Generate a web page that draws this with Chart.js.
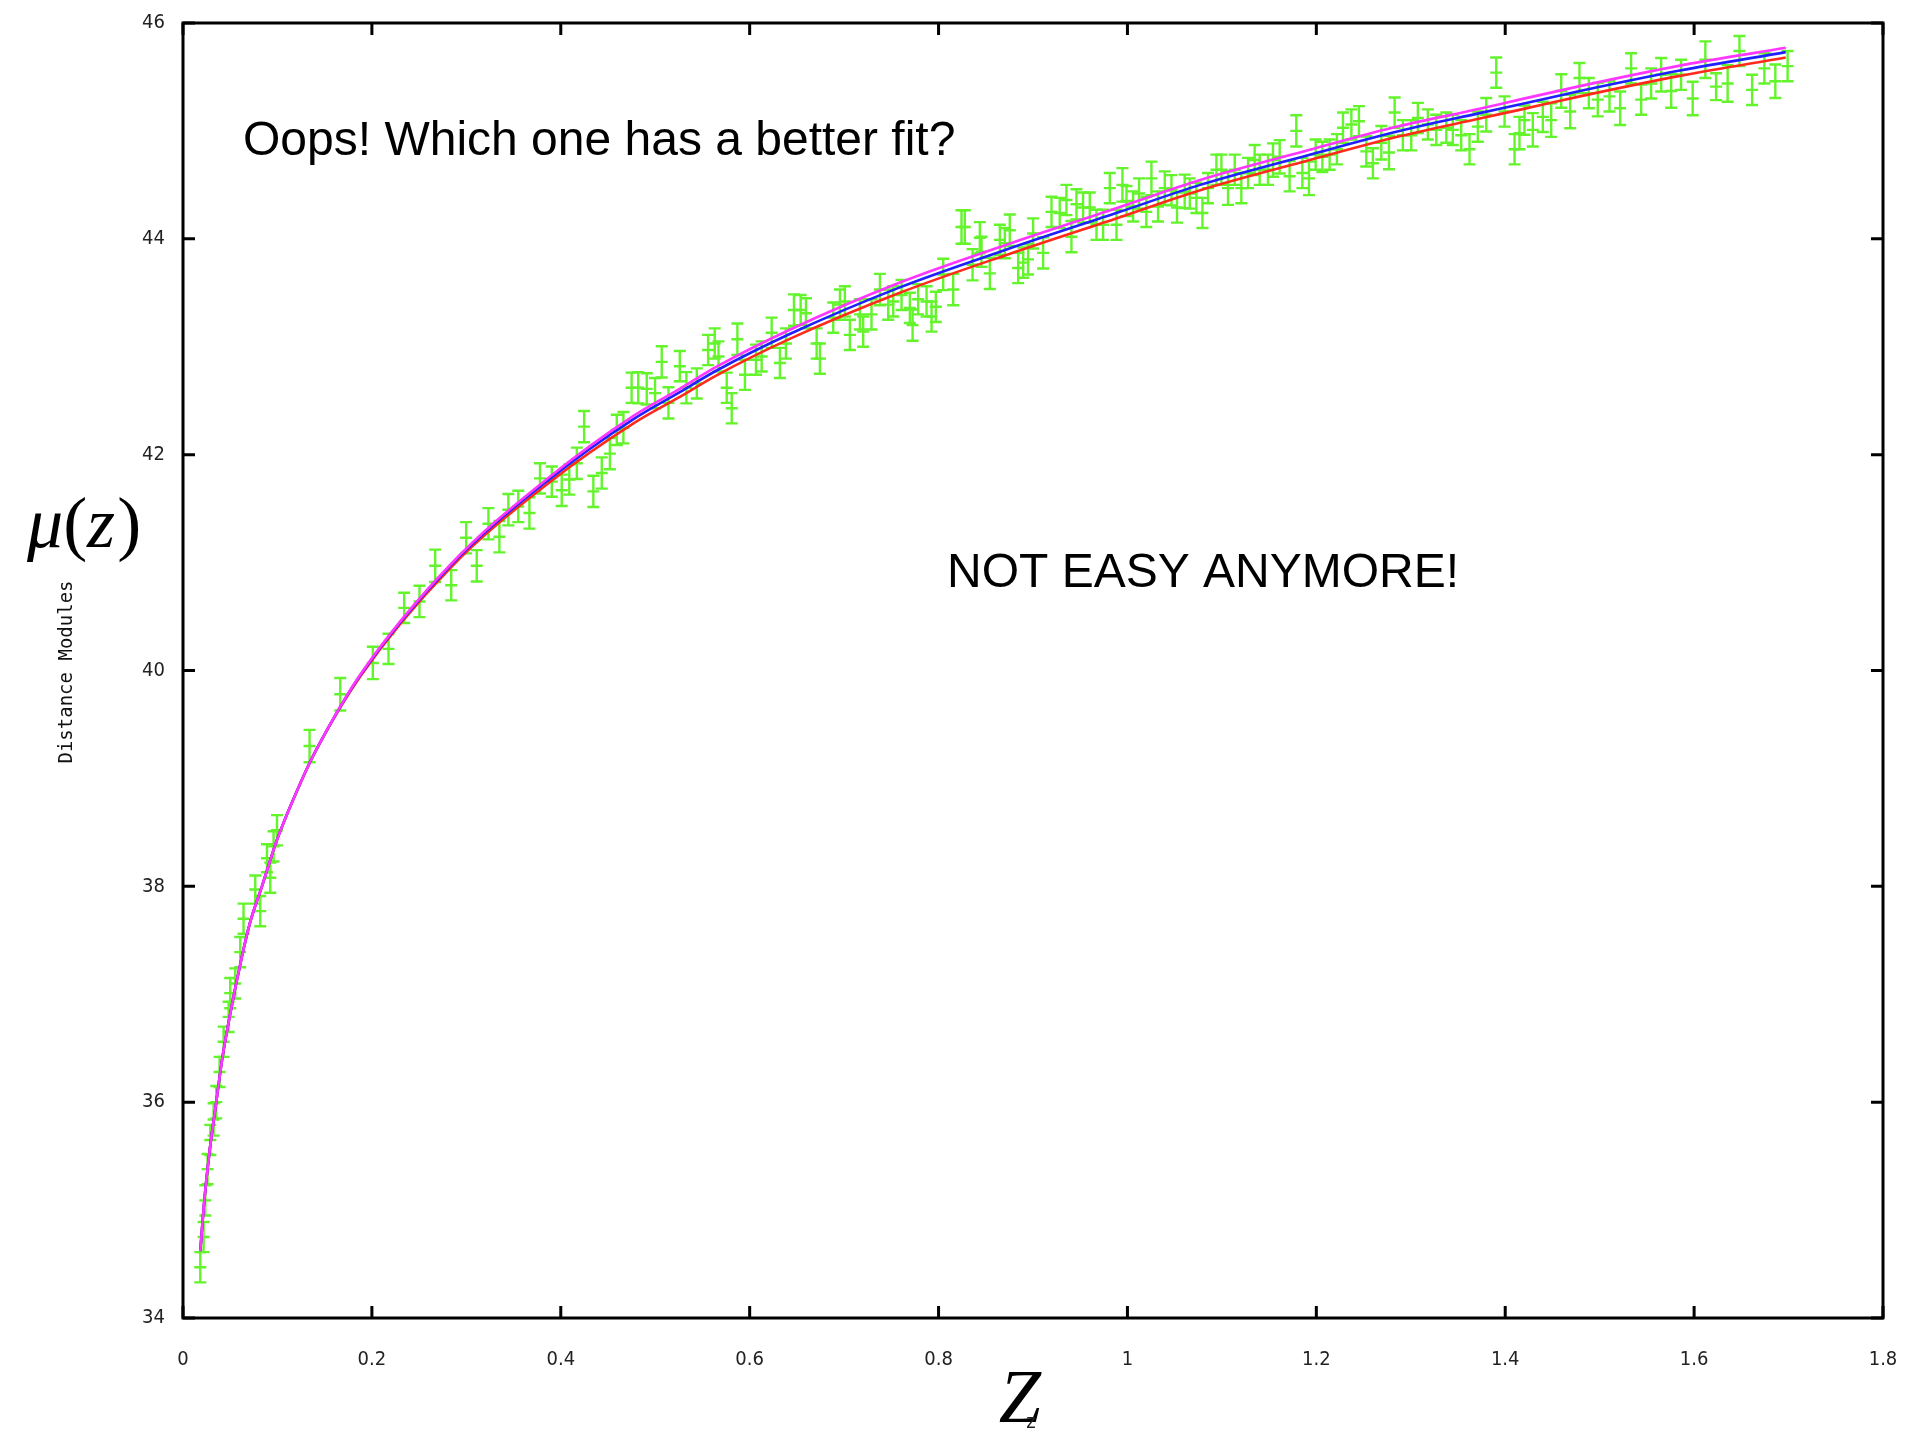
<!DOCTYPE html>
<html>
<head>
<meta charset="utf-8">
<title>Distance modulus vs redshift</title>
<script src="https://cdn.jsdelivr.net/npm/chart.js@4.4.1/dist/chart.umd.min.js"></script>
<style>
  html, body { margin: 0; padding: 0; background: #ffffff; }
  #wrap { width: 1909px; height: 1440px; position: relative; }
</style>
</head>
<body>
<div id="wrap"><canvas id="c" width="1909" height="1440"></canvas></div>
<script>
// Observed supernovae: redshift, distance modulus and its 1-sigma error
const zObs = [
  0.0183, 0.0218, 0.0236, 0.0260, 0.0289, 0.0324, 0.0352, 0.0387, 0.0430, 0.0483,
  0.0500, 0.0553, 0.0606, 0.0641, 0.0765, 0.0818, 0.0889, 0.0924, 0.0959, 0.0995,
  0.1340, 0.1665, 0.2010, 0.2176, 0.2342, 0.2504, 0.2670, 0.2840, 0.2998, 0.3110,
  0.3234, 0.3350, 0.3445, 0.3550, 0.3668, 0.3780, 0.3905, 0.4010, 0.4090, 0.4170,
  0.4247, 0.4345, 0.4434, 0.4520, 0.4593, 0.4663, 0.4750, 0.4820, 0.4910, 0.4998,
  0.5069, 0.5140, 0.5260, 0.5330, 0.5440, 0.5560, 0.5630, 0.5670, 0.5757, 0.5810,
  0.5870, 0.5950, 0.6067, 0.6127, 0.6233, 0.6320, 0.6384, 0.6469, 0.6540, 0.6596,
  0.6709, 0.6744, 0.6885, 0.6956, 0.7008, 0.7061, 0.7167, 0.7202, 0.7290, 0.7379,
  0.7467, 0.7520, 0.7608, 0.7696, 0.7725, 0.7784, 0.7873, 0.7926, 0.7971, 0.8049,
  0.8155, 0.8243, 0.8278, 0.8360, 0.8437, 0.8455, 0.8543, 0.8649, 0.8702, 0.8754,
  0.8843, 0.8896, 0.8948, 0.9001, 0.9107, 0.9196, 0.9283, 0.9354, 0.9407, 0.9460,
  0.9530, 0.9601, 0.9672, 0.9742, 0.9813, 0.9884, 0.9947, 0.9990, 1.0060, 1.0123,
  1.0200, 1.0254, 1.0324, 1.0395, 1.0466, 1.0525, 1.0606, 1.0660, 1.0730, 1.0794,
  1.0853, 1.0942, 1.0995, 1.1065, 1.1136, 1.1206, 1.1277, 1.1347, 1.1400, 1.1488,
  1.1541, 1.1612, 1.1717, 1.1788, 1.1852, 1.1922, 1.1993, 1.2064, 1.2141, 1.2218,
  1.2282, 1.2371, 1.2451, 1.2529, 1.2599, 1.2688, 1.2769, 1.2829, 1.2916, 1.3005,
  1.3075, 1.3181, 1.3270, 1.3376, 1.3445, 1.3534, 1.3622, 1.3710, 1.3799, 1.3905,
  1.3993, 1.4099, 1.4151, 1.4204, 1.4292, 1.4398, 1.4487, 1.4593, 1.4688, 1.4786,
  1.4885, 1.4980, 1.5104, 1.5217, 1.5333, 1.5439, 1.5545, 1.5651, 1.5757, 1.5862,
  1.5985, 1.6119, 1.6233, 1.6355, 1.6480, 1.6614, 1.6744, 1.6860, 1.6990
];
const muObs = [
  34.47, 34.75, 35.09, 35.38, 35.65, 35.84, 36.00, 36.28, 36.56, 36.79,
  37.01, 37.10, 37.39, 37.70, 37.97, 37.77, 38.26, 38.08, 38.37, 38.52,
  39.30, 39.78, 40.07, 40.20, 40.58, 40.64, 40.97, 40.79, 41.23, 40.97,
  41.36, 41.24, 41.49, 41.52, 41.46, 41.78, 41.75, 41.67, 41.77, 41.92,
  42.26, 41.66, 41.83, 42.01, 42.23, 42.25, 42.62, 42.62, 42.61, 42.57,
  42.86, 42.48, 42.82, 42.62, 42.66, 42.97, 43.03, 42.91, 42.62, 42.43,
  43.07, 42.74, 42.88, 42.91, 43.13, 42.85, 43.03, 43.34, 43.34, 43.31,
  43.03, 42.89, 43.27, 43.39, 43.42, 43.11, 43.30, 43.14, 43.30, 43.53,
  43.39, 43.42, 43.48, 43.36, 43.20, 43.44, 43.42, 43.28, 43.37, 43.67,
  43.53, 44.11, 44.11, 43.76, 44.01, 43.88, 43.68, 43.99, 43.96, 44.08,
  43.73, 43.78, 43.81, 44.05, 43.87, 44.25, 44.24, 44.36, 44.02, 44.32,
  44.29, 44.29, 44.13, 44.13, 44.47, 44.13, 44.50, 44.35, 44.30, 44.42,
  44.25, 44.56, 44.30, 44.47, 44.45, 44.29, 44.44, 44.42, 44.38, 44.24,
  44.47, 44.64, 44.64, 44.47, 44.64, 44.47, 44.61, 44.73, 44.64, 44.64,
  44.73, 44.76, 44.58, 45.00, 44.61, 44.56, 44.78, 44.76, 44.78, 44.83,
  45.03, 45.06, 45.09, 44.81, 44.70, 44.89, 44.80, 45.17, 44.96, 44.96,
  45.12, 45.06, 45.01, 45.03, 45.01, 44.96, 44.83, 45.04, 45.15, 45.54,
  45.18, 44.83, 44.98, 45.10, 45.01, 45.13, 45.10, 45.37, 45.18, 45.49,
  45.35, 45.29, 45.32, 45.21, 45.58, 45.29, 45.44, 45.52, 45.37, 45.52,
  45.30, 45.66, 45.41, 45.44, 45.74, 45.38, 45.58, 45.46, 45.60
];
const muErr = [
  0.14, 0.14, 0.14, 0.14, 0.14, 0.15, 0.15, 0.14, 0.14, 0.14,
  0.14, 0.14, 0.14, 0.14, 0.13, 0.14, 0.13, 0.14, 0.14, 0.14,
  0.15, 0.15, 0.15, 0.14, 0.14, 0.145, 0.15, 0.14, 0.145, 0.145,
  0.145, 0.145, 0.145, 0.145, 0.145, 0.14, 0.14, 0.145, 0.14, 0.145,
  0.145, 0.145, 0.145, 0.145, 0.14, 0.145, 0.14, 0.145, 0.145, 0.14,
  0.145, 0.145, 0.14, 0.145, 0.14, 0.14, 0.14, 0.14, 0.14, 0.14,
  0.145, 0.14, 0.14, 0.14, 0.14, 0.14, 0.14, 0.145, 0.14, 0.14,
  0.14, 0.14, 0.14, 0.14, 0.14, 0.14, 0.14, 0.14, 0.14, 0.145,
  0.14, 0.14, 0.14, 0.14, 0.145, 0.14, 0.14, 0.14, 0.14, 0.145,
  0.145, 0.155, 0.155, 0.145, 0.145, 0.14, 0.145, 0.14, 0.14, 0.145,
  0.14, 0.14, 0.14, 0.14, 0.145, 0.14, 0.14, 0.14, 0.145, 0.14,
  0.14, 0.14, 0.14, 0.14, 0.14, 0.14, 0.155, 0.14, 0.14, 0.14,
  0.14, 0.155, 0.14, 0.155, 0.14, 0.14, 0.155, 0.14, 0.14, 0.14,
  0.14, 0.14, 0.14, 0.155, 0.14, 0.14, 0.14, 0.14, 0.14, 0.14,
  0.155, 0.155, 0.14, 0.145, 0.14, 0.155, 0.14, 0.14, 0.14, 0.14,
  0.14, 0.14, 0.14, 0.14, 0.14, 0.155, 0.155, 0.14, 0.14, 0.14,
  0.14, 0.14, 0.14, 0.14, 0.14, 0.14, 0.14, 0.14, 0.155, 0.14,
  0.14, 0.14, 0.15, 0.135, 0.155, 0.14, 0.155, 0.155, 0.155, 0.14,
  0.14, 0.155, 0.14, 0.155, 0.14, 0.14, 0.14, 0.155, 0.155, 0.14,
  0.155, 0.17, 0.125, 0.17, 0.14, 0.14, 0.14, 0.155, 0.14
];

// Three cosmological model curves mu(z)
const zFit = [
  0.0183, 0.0225, 0.0282, 0.0352, 0.0413, 0.0500, 0.0624, 0.0712, 0.0836, 0.0995,
  0.1260, 0.1420, 0.1880, 0.2830, 0.3890, 0.4770, 0.5260, 0.5650, 0.6430, 0.7590,
  0.8750, 0.9920, 1.0770, 1.1930, 1.2880, 1.3730, 1.4150, 1.4790, 1.5850, 1.6970
];
const muMagenta = [
  34.62, 35.08, 35.55, 36.00, 36.39, 36.82, 37.35, 37.67, 38.00, 38.43,
  38.99, 39.28, 39.965, 40.98, 41.80, 42.36, 42.61, 42.815, 43.16, 43.595,
  43.955, 44.295, 44.545, 44.825, 45.045, 45.205, 45.29, 45.415, 45.605, 45.77
];
const muBlue = [
  34.62, 35.08, 35.55, 36.00, 36.39, 36.82, 37.35, 37.67, 38.00, 38.43,
  38.99, 39.28, 39.96, 40.97, 41.78, 42.33, 42.58, 42.78, 43.12, 43.55,
  43.91, 44.25, 44.50, 44.78, 45.00, 45.165, 45.245, 45.37, 45.56, 45.73
];
const muRed = [
  34.62, 35.08, 35.55, 36.00, 36.39, 36.82, 37.35, 37.67, 38.00, 38.43,
  38.99, 39.28, 39.95, 40.95, 41.75, 42.29, 42.535, 42.735, 43.075, 43.50,
  43.86, 44.20, 44.45, 44.73, 44.95, 45.115, 45.195, 45.32, 45.51, 45.68
];

// Axis ticks
const xTickValues = [0, 0.2, 0.4, 0.6, 0.8, 1.0, 1.2, 1.4, 1.6, 1.8];
const xTickLabels = ['0', '0.2', '0.4', '0.6', '0.8', '1', '1.2', '1.4', '1.6', '1.8'];
const yTickValues = [34, 36, 38, 40, 42, 44, 46];
const yTickLabels = ['34', '36', '38', '40', '42', '44', '46'];

const GREEN = '#63f42c';
const TICK_FONT = '"Liberation Sans Narrow", "Arial Narrow", "DejaVu Sans Condensed", sans-serif';

const toPoints = (xs, ys) => xs.map((x, i) => ({ x: x, y: ys[i] }));

// Fixed axis box sizes; label overhang is left to the layout padding
const fixScaleBox = (scale, size) => {
  if (scale.isHorizontal()) { scale.height = size; } else { scale.width = size; }
  scale.paddingLeft = 0;
  scale.paddingRight = 0;
  scale.paddingTop = 0;
  scale.paddingBottom = 0;
};

// Green error bars with caps and a centre mark, drawn beneath the model curves
const errorBars = {
  id: 'errorBars',
  beforeDatasetsDraw(chart) {
    const meta = chart.getDatasetMeta(3);
    const ys = chart.scales.y;
    const area = chart.chartArea;
    const ctx = chart.ctx;
    ctx.save();
    ctx.beginPath();
    ctx.rect(area.left, area.top, area.right - area.left, area.bottom - area.top);
    ctx.clip();
    ctx.strokeStyle = GREEN;
    ctx.lineWidth = 2.4;
    const half = 6;
    meta.data.forEach((pt, i) => {
      const x = pt.x;
      const yc = pt.y;
      const yt = ys.getPixelForValue(muObs[i] + muErr[i]);
      const yb = ys.getPixelForValue(muObs[i] - muErr[i]);
      ctx.beginPath();
      ctx.moveTo(x, yt);
      ctx.lineTo(x, yb);
      [yt, yc, yb].forEach(y => {
        ctx.moveTo(x - half, y);
        ctx.lineTo(x + half, y);
      });
      ctx.stroke();
    });
    ctx.restore();
  }
};

// Box frame with inward tick marks on all four sides
const frameAndTicks = {
  id: 'frameAndTicks',
  afterDraw(chart) {
    const { ctx, chartArea: a, scales } = chart;
    ctx.save();
    ctx.strokeStyle = '#000';
    ctx.lineWidth = 3;
    ctx.lineCap = 'butt';
    ctx.strokeRect(a.left, a.top, a.right - a.left, a.bottom - a.top);
    const len = 12;
    ctx.beginPath();
    xTickValues.forEach(v => {
      const px = scales.x.getPixelForValue(v);
      ctx.moveTo(px, a.bottom); ctx.lineTo(px, a.bottom - len);
      ctx.moveTo(px, a.top); ctx.lineTo(px, a.top + len);
    });
    yTickValues.forEach(v => {
      const py = scales.y.getPixelForValue(v);
      ctx.moveTo(a.left, py); ctx.lineTo(a.left + len, py);
      ctx.moveTo(a.right, py); ctx.lineTo(a.right - len, py);
    });
    ctx.stroke();
    ctx.restore();
  }
};

// Titles, axis symbols and remarks
const annotations = {
  id: 'annotations',
  afterDraw(chart) {
    const ctx = chart.ctx;
    ctx.save();
    ctx.fillStyle = '#000';
    ctx.textBaseline = 'alphabetic';

    ctx.font = '48px "Liberation Sans", Arial, sans-serif';
    ctx.textAlign = 'left';
    ctx.fillText('Oops! Which one has a better fit?', 243, 155);
    ctx.fillText('NOT EASY ANYMORE!', 947, 587);

    // mu(z) symbol on the vertical axis
    const serifItalic = 'italic 72px "Liberation Serif", "Times New Roman", serif';
    const serifUpright = '72px "Liberation Serif", "Times New Roman", serif';
    let x = 27;
    const base = 547;
    [['\u03bc', serifItalic], ['(', serifUpright], ['z', serifItalic], [')', serifUpright]].forEach(([t, f]) => {
      ctx.font = f;
      ctx.fillText(t, x, base);
      x += ctx.measureText(t).width + (t === 'z' ? 2 : 0);
    });

    // Vertical axis caption
    ctx.save();
    ctx.translate(67, 672);
    ctx.rotate(-Math.PI / 2);
    ctx.font = '19px "DejaVu Sans Mono", "Liberation Mono", monospace';
    ctx.textAlign = 'center';
    ctx.textBaseline = 'middle';
    ctx.fillStyle = '#111';
    ctx.fillText('Distance Modules', 0, 0);
    ctx.restore();

    // Horizontal axis symbol
    ctx.font = 'italic 76px "Liberation Serif", "Times New Roman", serif';
    ctx.textAlign = 'center';
    ctx.fillText('Z', 1020, 1422);
    ctx.font = '20px ' + TICK_FONT;
    ctx.fillStyle = '#222';
    ctx.fillText('z', 1031, 1428);
    ctx.restore();
  }
};

const lineDataset = (label, ys, color) => ({
  type: 'line',
  label: label,
  data: toPoints(zFit, ys),
  borderColor: color,
  backgroundColor: color,
  borderWidth: 2.6,
  pointRadius: 0,
  fill: false,
  cubicInterpolationMode: 'monotone',
  clip: 0
});

new Chart(document.getElementById('c'), {
  type: 'scatter',
  data: {
    datasets: [
      lineDataset('Model C', muMagenta, '#ff36ff'),
      lineDataset('Model B', muBlue, '#1f1fff'),
      lineDataset('Model A', muRed, '#ff2a1c'),
      {
        type: 'scatter',
        label: 'SNe Ia',
        data: toPoints(zObs, muObs),
        pointRadius: 0,
        pointHoverRadius: 0,
        showLine: false,
        borderColor: GREEN,
        backgroundColor: GREEN
      }
    ]
  },
  options: {
    responsive: false,
    animation: false,
    events: [],
    layout: { padding: { top: 23, right: 26, left: 0, bottom: 0 } },
    plugins: {
      legend: { display: false },
      tooltip: { enabled: false },
      title: { display: false }
    },
    scales: {
      x: {
        type: 'linear',
        min: 0,
        max: 1.8,
        grid: { display: false, drawTicks: false },
        border: { display: false },
        afterBuildTicks(scale) {
          scale.ticks = xTickValues.map(v => ({ value: v }));
        },
        afterFit(scale) { fixScaleBox(scale, 122); },
        ticks: {
          padding: 30,
          maxRotation: 0,
          autoSkip: false,
          color: '#222',
          font: { family: TICK_FONT, size: 20 },
          callback: (v, i) => xTickLabels[i]
        }
      },
      y: {
        type: 'linear',
        min: 34,
        max: 46,
        grid: { display: false, drawTicks: false },
        border: { display: false },
        afterBuildTicks(scale) {
          scale.ticks = yTickValues.map(v => ({ value: v }));
        },
        afterFit(scale) { fixScaleBox(scale, 183); },
        ticks: {
          padding: 18,
          autoSkip: false,
          color: '#222',
          font: { family: TICK_FONT, size: 20 },
          callback: (v, i) => yTickLabels[i]
        }
      }
    }
  },
  plugins: [errorBars, frameAndTicks, annotations]
});
</script>
</body>
</html>
